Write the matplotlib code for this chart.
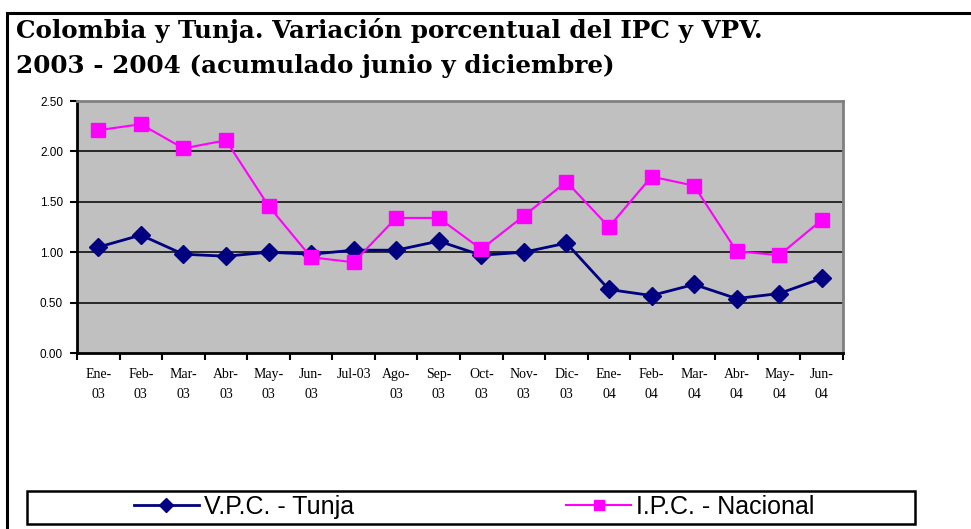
import matplotlib
matplotlib.use("Agg")
import matplotlib.pyplot as plt
from matplotlib.patches import Rectangle
from matplotlib.lines import Line2D
import numpy as np

months = ["Ene-\n03", "Feb-\n03", "Mar-\n03", "Abr-\n03", "May-\n03", "Jun-\n03",
          "Jul-03", "Ago-\n03", "Sep-\n03", "Oct-\n03", "Nov-\n03", "Dic-\n03",
          "Ene-\n04", "Feb-\n04", "Mar-\n04", "Abr-\n04", "May-\n04", "Jun-\n04"]
vpc_tunja = [1.05, 1.17, 0.98, 0.96, 1.00, 0.98, 1.02, 1.02, 1.11, 0.97,
             1.00, 1.09, 0.63, 0.57, 0.68, 0.54, 0.59, 0.74]
ipc_nacional = [2.21, 2.27, 2.03, 2.11, 1.46, 0.95, 0.90, 1.34, 1.34, 1.03,
                1.36, 1.70, 1.25, 1.75, 1.66, 1.01, 0.97, 1.32]
yticks = [0.0, 0.5, 1.0, 1.5, 2.0, 2.5]
title_lines = ["Colombia y Tunja. Variación porcentual del IPC y VPV.",
               "2003 - 2004 (acumulado junio y diciembre)"]

W, H = 971, 529
fig = plt.figure(figsize=(W / 100, H / 100), dpi=100)

def fx(px):
    return px / W

def fy(py):
    return 1 - py / H

# outer frame (left and top visible)
fig.patches.append(Rectangle((fx(7), fy(560)), fx(1000), fy(13) - fy(560),
                             transform=fig.transFigure, fill=False,
                             edgecolor="black", linewidth=2.2))

title_font = ["DejaVu Serif", "Liberation Serif"]
fig.text(fx(16), fy(38), title_lines[0], family=title_font, weight="bold",
         fontsize=17.7, va="baseline", ha="left")
fig.text(fx(16), fy(73), title_lines[1], family=title_font, weight="bold",
         fontsize=17.7, va="baseline", ha="left")

left, right, top, bottom = 77, 843, 101, 353
ax = fig.add_axes([fx(left), fy(bottom), fx(right - left), fy(top) - fy(bottom)])
ax.set_facecolor("#C0C0C0")
x = np.arange(len(months))
ax.plot(x, vpc_tunja, color="#000080", linewidth=2.0, marker="D",
        markersize=9, markerfacecolor="#000080", markeredgecolor="#000080",
        zorder=4)
ax.plot(x, ipc_nacional, color="#FF00FF", linewidth=1.5, marker="s",
        markersize=9.5, markerfacecolor="#FF00FF", markeredgecolor="#FF00FF",
        zorder=5)
ax.set_xlim(-0.5, len(months) - 0.5)
ax.set_ylim(0, 2.5)
ax.set_yticks(yticks)
ax.set_yticklabels([f"{v:.2f}" for v in yticks], family="Liberation Sans",
                   fontsize=8.5)
for v in yticks[1:-1]:
    ax.axhline(v, color="black", linewidth=1.1, zorder=1)

ax.set_xticks(np.arange(-0.5, len(months)), minor=False)
ax.set_xticklabels([])
ax.set_xticks(x, minor=True)
ax.set_xticklabels(months, minor=True, family="Liberation Serif", fontsize=10,
                   linespacing=1.7, va="top")
ax.tick_params(axis="x", which="major", direction="out", length=5, width=1.5)
ax.tick_params(axis="x", which="minor", length=0, pad=11)
ax.tick_params(axis="y", direction="out", length=5, width=1.5, pad=5)

for s in ["left", "bottom"]:
    ax.spines[s].set_color("black")
    ax.spines[s].set_linewidth(2)
for s in ["top", "right"]:
    ax.spines[s].set_color("#808080")
    ax.spines[s].set_linewidth(2)

# legend box
fig.patches.append(Rectangle((fx(27), fy(524)), fx(915 - 27), fy(491) - fy(524),
                             transform=fig.transFigure, fill=False,
                             edgecolor="black", linewidth=1.8))
handles = [Line2D([], [], color="#000080", linewidth=2, marker="D",
                  markersize=7.5),
           Line2D([], [], color="#FF00FF", linewidth=1.5, marker="s",
                  markersize=6.5)]
fig.legend(handles, ["V.P.C. - Tunja", "I.P.C. - Nacional"], loc="center",
           bbox_to_anchor=(fx(474), fy(507)), ncol=2, frameon=False,
           prop={"family": "Liberation Sans", "size": 18},
           handlelength=2.6, handletextpad=0.2, columnspacing=8.5)

fig.savefig("out.png", dpi=100)
